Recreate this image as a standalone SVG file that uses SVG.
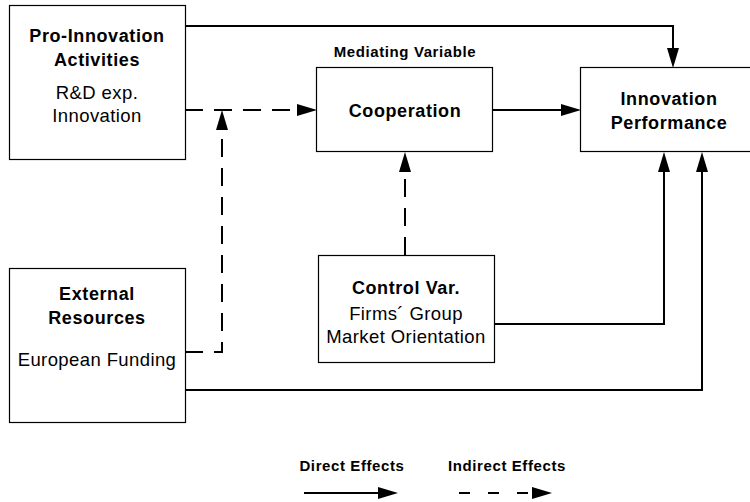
<svg xmlns="http://www.w3.org/2000/svg" width="750" height="502" viewBox="0 0 750 502">
<style>
.box{fill:#fff;stroke:#000;stroke-width:1.2}
.t{font-family:"Liberation Sans",Arial,sans-serif;fill:#000;text-anchor:middle}
.b{font-weight:bold;font-size:18px;letter-spacing:0.6px}
.r{font-size:18.5px;letter-spacing:0.4px}
.s{font-weight:bold;font-size:15px;letter-spacing:0.6px}
.c{fill:none;stroke:#000;stroke-width:2}
.d{stroke-dasharray:18 11}
.ld{stroke-dasharray:11 18}
</style>
<defs>
<marker id="ah" markerUnits="userSpaceOnUse" markerWidth="20" markerHeight="12" refX="0" refY="6" orient="auto" viewBox="0 0 20 12">
<path d="M0,0 L20,6 L0,12 Z" fill="#000"/>
</marker>
</defs>
<g id="connectors">
<path class="c" d="M185,26 H673 V48" marker-end="url(#ah)"/>
<path class="c d" d="M185,110 H297" marker-end="url(#ah)"/>
<path class="c d" d="M185,352 H222 V130" marker-end="url(#ah)"/>
<path class="c d" d="M405,255 V172" marker-end="url(#ah)"/>
<path class="c" d="M493,110 H561" marker-end="url(#ah)"/>
<path class="c" d="M494,324 H664 V172" marker-end="url(#ah)"/>
<path class="c" d="M185,390 H702 V172" marker-end="url(#ah)"/>
</g>
<g id="pro-innovation">
<rect class="box" x="9.5" y="5.5" width="176" height="154"/>
<text class="t b" x="97" y="42">Pro-Innovation</text>
<text class="t b" x="97" y="66">Activities</text>
<text class="t r" x="97" y="99">R&amp;D exp.</text>
<text class="t r" x="97" y="122">Innovation</text>
</g>
<g id="cooperation">
<text class="t s" x="405" y="57">Mediating Variable</text>
<rect class="box" x="316.5" y="67.5" width="176" height="84"/>
<text class="t b" x="405" y="117">Cooperation</text>
</g>
<g id="innovation-performance">
<rect class="box" x="580.5" y="67.5" width="180" height="84"/>
<text class="t b" x="669" y="105">Innovation</text>
<text class="t b" x="669" y="129">Performance</text>
</g>
<g id="external-resources">
<rect class="box" x="9.5" y="268.5" width="176" height="154"/>
<text class="t b" x="97" y="300">External</text>
<text class="t b" x="97" y="324">Resources</text>
<text class="t r" x="97" y="366">European Funding</text>
</g>
<g id="control-var">
<rect class="box" x="318.5" y="255.5" width="176" height="107"/>
<text class="t b" x="406" y="294">Control Var.</text>
<text class="t r" x="406" y="320">Firms´ Group</text>
<text class="t r" x="406" y="343">Market Orientation</text>
</g>
<g id="legend">
<text class="t s" x="352" y="471">Direct Effects</text>
<text class="t s" x="507" y="471">Indirect Effects</text>
<path class="c" d="M304,493 H378" marker-end="url(#ah)"/>
<path class="c ld" d="M459,493 H532" marker-end="url(#ah)"/>
</g>
</svg>
